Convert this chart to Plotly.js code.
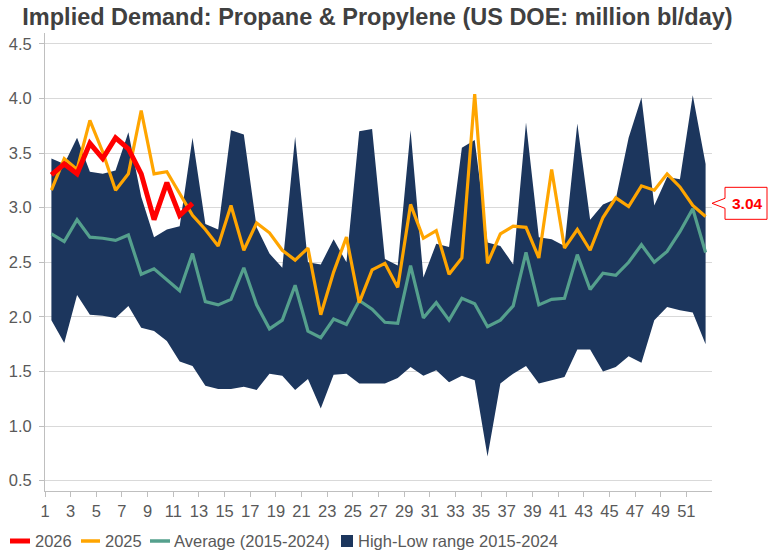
<!DOCTYPE html>
<html>
<head>
<meta charset="utf-8">
<script src="https://cdn.plot.ly/plotly-3.0.1.min.js"></script>
<style>
  html, body { margin: 0; padding: 0; background: #ffffff; }
  #chart { width: 769px; height: 551px; }
</style>
</head>
<body>
<div id="chart"></div>
<script>
// ---- data (million bl/day, by week) ----
const weeks = Array.from({length: 52}, (_, i) => i + 1);
const tickWeeks = [1,3,5,7,9,11,13,15,17,19,21,23,25,27,29,31,33,35,37,39,41,43,45,47,49,51];

const weeks2026 = [1,2,3,4,5,6,7,8,9,10,11,12];
const d2026 = [3.30,3.40,3.31,3.59,3.45,3.64,3.54,3.31,2.89,3.23,2.93,3.04];

const d2025 = [3.16,3.45,3.35,3.80,3.51,3.16,3.31,3.89,3.31,3.33,3.13,2.93,
               2.80,2.65,3.02,2.61,2.86,2.77,2.61,2.52,2.63,2.02,2.41,2.73,2.13,
               2.43,2.49,2.27,3.03,2.72,2.79,2.39,2.54,4.04,2.49,2.76,2.83,2.82,2.54,
               3.35,2.63,2.80,2.61,2.91,3.09,3.01,3.20,3.16,3.31,3.19,3.02,2.92];

const avg = [2.76,2.69,2.89,2.73,2.72,2.70,2.75,2.39,2.44,2.34,2.24,2.58,
             2.14,2.11,2.16,2.45,2.11,1.89,1.97,2.29,1.87,1.81,1.98,1.93,2.15,
             2.07,1.95,1.94,2.47,1.99,2.13,1.97,2.17,2.12,1.91,1.97,2.10,2.59,2.11,
             2.16,2.17,2.57,2.25,2.40,2.38,2.50,2.66,2.50,2.60,2.78,2.99,2.59];

const high = [3.45,3.40,3.64,3.33,3.31,3.34,3.69,3.10,2.73,2.80,2.83,3.64,
              2.85,2.80,3.71,3.67,2.82,2.58,2.45,3.65,2.50,2.48,2.71,2.50,3.70,
              3.72,2.53,2.47,3.71,2.36,2.67,2.64,3.55,3.62,2.68,2.65,2.48,3.78,2.73,
              2.71,2.65,3.77,2.89,3.03,3.08,3.64,4.01,3.02,3.28,3.26,4.03,3.40];

const low = [1.97,1.76,2.20,2.02,2.01,1.99,2.10,1.90,1.87,1.78,1.59,1.55,
             1.37,1.34,1.34,1.36,1.33,1.48,1.46,1.33,1.43,1.16,1.47,1.48,1.39,
             1.39,1.39,1.44,1.54,1.46,1.51,1.40,1.46,1.42,0.72,1.39,1.48,1.55,1.39,
             1.42,1.45,1.70,1.70,1.50,1.54,1.64,1.58,1.97,2.09,2.06,2.04,1.75];

const legendNames = ['2026', '2025', 'Average (2015-2024)', 'High-Low range 2015-2024'];

// ---- styling ----
const NAVY = '#1c365d', RED = '#ff0000', ORANGE = '#ffa500', TEAL = '#55a08d';
const FONT = 'Liberation Sans, Arial, sans-serif';
const last2026 = d2026[d2026.length - 1];

const W = 769, H = 551;
const M = {l: 45, r: 57, t: 33, b: 60};
const PW = W - M.l - M.r, PH = H - M.t - M.b;
const px2x = px => (px - M.l) / PW;       // pixel -> paper x
const py2y = py => (H - M.b - py) / PH;   // pixel -> paper y

const traces = [
  { x: weeks, y: low, type: 'scatter', mode: 'lines', line: {width: 0, color: NAVY},
    showlegend: false, hoverinfo: 'skip' },
  { x: weeks, y: high, type: 'scatter', mode: 'lines', line: {width: 0, color: NAVY},
    fill: 'tonexty', fillcolor: NAVY, name: legendNames[3], showlegend: false },
  { x: weeks, y: avg, type: 'scatter', mode: 'lines', name: legendNames[2],
    line: {color: TEAL, width: 3.2}, showlegend: false },
  { x: weeks, y: d2025, type: 'scatter', mode: 'lines', name: legendNames[1],
    line: {color: ORANGE, width: 3.2}, showlegend: false },
  { x: weeks2026, y: d2026, type: 'scatter', mode: 'lines', name: legendNames[0],
    line: {color: RED, width: 5}, showlegend: false }
];

// legend drawn as shapes + text (matches the reference's compact swatches)
const legendY = py2y(541);
const legendItems = [
  {name: legendNames[0], kind: 'line', color: RED, width: 5, x0: 10, x1: 30, tx: 33},
  {name: legendNames[1], kind: 'line', color: ORANGE, width: 3.5, x0: 81, x1: 100, tx: 103},
  {name: legendNames[2], kind: 'line', color: TEAL, width: 3.5, x0: 150, x1: 170, tx: 172},
  {name: legendNames[3], kind: 'rect', color: NAVY, x0: 341, x1: 353, tx: 356}
];
const legendShapes = legendItems.map(it => it.kind === 'line'
  ? {type: 'line', xref: 'paper', yref: 'paper', x0: px2x(it.x0), x1: px2x(it.x1),
     y0: legendY, y1: legendY, line: {color: it.color, width: it.width}}
  : {type: 'rect', xref: 'paper', yref: 'paper', x0: px2x(it.x0), x1: px2x(it.x1),
     y0: py2y(547), y1: py2y(535), line: {width: 0}, fillcolor: it.color});
const legendTexts = legendItems.map(it => ({
  xref: 'paper', yref: 'paper', x: px2x(it.tx), y: legendY, xanchor: 'left', yanchor: 'middle',
  text: it.name, showarrow: false, font: {family: FONT, size: 16.5, color: '#595959'}
}));

const layout = {
  width: W, height: H,
  margin: M,
  paper_bgcolor: '#ffffff', plot_bgcolor: '#ffffff',
  font: {family: FONT, color: '#595959'},
  showlegend: false,
  title: {
    text: '<b>Implied Demand: Propane &amp; Propylene (US DOE: million bl/day)</b>',
    font: {family: FONT, size: 23.5, color: '#404040'},
    x: 377.5 / W, xref: 'container', xanchor: 'center',
    y: 1 - 17 / H, yref: 'container', yanchor: 'middle'
  },
  xaxis: {
    range: [0.5, 52.5], automargin: false,
    tickmode: 'array',
    tickvals: tickWeeks.map(w => w - 0.5),
    ticktext: tickWeeks.map(String),
    ticks: 'outside', ticklen: 5, tickcolor: '#bfbfbf',
    showline: true, linecolor: '#bfbfbf', linewidth: 1,
    showgrid: false, zeroline: false,
    tickfont: {size: 16.5, color: '#595959'}
  },
  yaxis: {
    range: [0.405, 4.6], automargin: false,
    tick0: 0.5, dtick: 0.5, tickformat: '.1f',
    ticks: 'outside', ticklen: 5, tickcolor: '#bfbfbf', ticklabelstandoff: 4,
    showline: true, linecolor: '#bfbfbf', linewidth: 1,
    showgrid: true, gridcolor: '#d9d9d9', gridwidth: 1,
    zeroline: false,
    tickfont: {size: 16.5, color: '#595959'}
  },
  shapes: [{
    type: 'path', layer: 'above',
    xref: 'paper', xsizemode: 'pixel', xanchor: 1,
    yref: 'y', ysizemode: 'pixel', yanchor: last2026,
    path: 'M0,0 L13,5 L13,16 L55,16 L55,-16 L13,-16 L13,-5 Z',
    line: {color: RED, width: 1}, fillcolor: '#ffffff'
  }].concat(legendShapes),
  annotations: [{
    xref: 'paper', x: 1, xshift: 35, xanchor: 'center',
    yref: 'y', y: last2026, yanchor: 'middle',
    text: '<b>' + last2026.toFixed(2) + '</b>', showarrow: false,
    font: {family: FONT, size: 15.5, color: RED}
  }].concat(legendTexts)
};

Plotly.newPlot('chart', traces, layout, {staticPlot: true, displayModeBar: false});
</script>
</body>
</html>
